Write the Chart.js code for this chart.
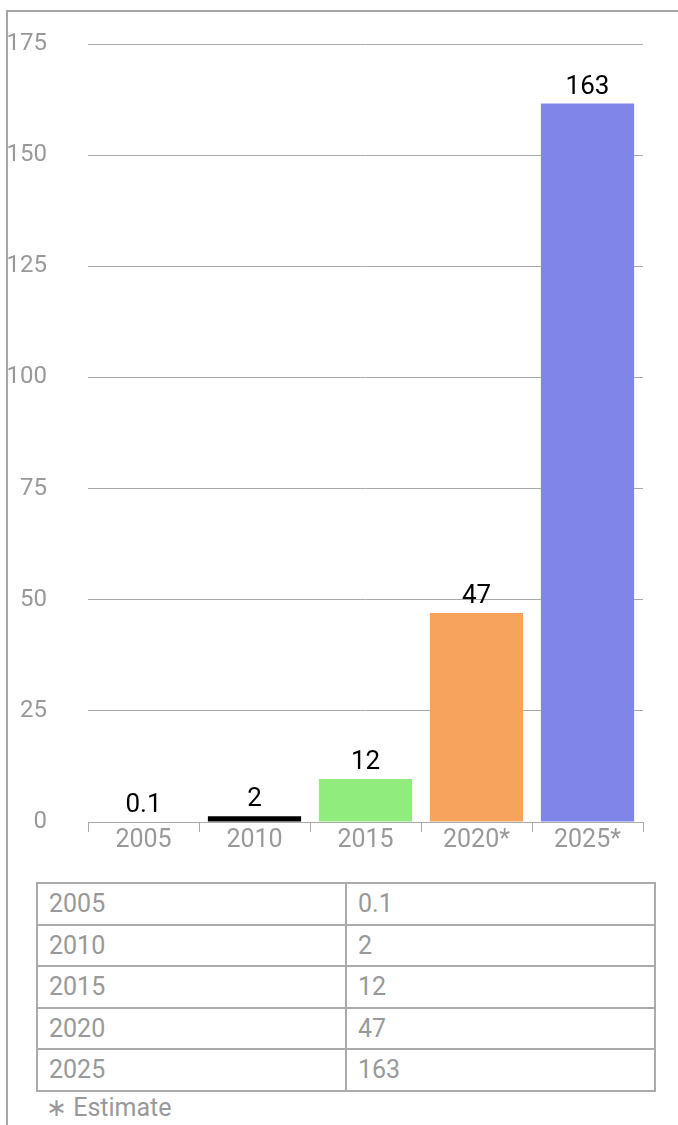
<!DOCTYPE html>
<html>
<head>
<meta charset="utf-8">
<script src="https://cdn.jsdelivr.net/npm/chart.js@4.4.1/dist/chart.umd.min.js"></script>
<style>
  html, body { margin: 0; padding: 0; background: #fff; }
  body { width: 678px; height: 1125px; position: relative; overflow: hidden;
         font-family: Roboto, 'Open Sans', sans-serif; }
  .frame { position: absolute; left: 6px; top: 10px; width: 700px; height: 1200px;
           border-top: 2px solid #a6a6a6; border-left: 2px solid #a6a6a6; }
  #wrap { position: absolute; left: 0; top: 0; width: 678px; height: 862px; }
  table { position: absolute; left: 36px; top: 882px; width: 620px; border-collapse: collapse; }
  td { border: 2px solid #ababab; height: 39.5px; padding: 0 0 0 11px; color: #999;
       font-size: 25px; line-height: 39px; }
  td:first-child { width: 296px; }
  .note { position: absolute; left: 46px; top: 1093px; color: #999; font-size: 25px; }
</style>
</head>
<body>
<div class="frame"></div>
<div id="wrap"><canvas id="myChart"></canvas></div>
<table id="tbl"></table>
<div class="note">&lowast; Estimate</div>
<script>
// categories and values
const years = ['2005', '2010', '2015', '2020*', '2025*'];
const tableYears = ['2005', '2010', '2015', '2020', '2025'];
const barValues = [0.1, 1.3, 9.7, 47, 161.6];   // heights as drawn
const valueLabels = ['0.1', '2', '12', '47', '163'];
const barColors = ['#7cb5ec', '#000000', '#90ed7d', '#f7a35c', '#8085e9'];
const yTicks = [0, 25, 50, 75, 100, 125, 150, 175];

const FONT = "Roboto, 'Open Sans', sans-serif";

// table under the chart
const tbl = document.getElementById('tbl');
tableYears.forEach(function (y, i) {
  const tr = document.createElement('tr');
  tr.innerHTML = '<td>' + y + '</td><td>' + valueLabels[i] + '</td>';
  tbl.appendChild(tr);
});

// value labels above bars
const topLabels = {
  id: 'topLabels',
  afterDatasetsDraw(chart) {
    const c = chart.ctx;
    const meta = chart.getDatasetMeta(0);
    c.save();
    c.fillStyle = '#000';
    c.font = '26px ' + FONT;
    c.textAlign = 'center';
    c.textBaseline = 'alphabetic';
    meta.data.forEach(function (bar, i) {
      c.fillText(valueLabels[i], bar.x, bar.y - 10);
    });
    c.restore();
  }
};

const ctx = document.getElementById('myChart');
const myBarChart = new Chart(ctx, {
  type: 'bar',
  data: {
    labels: years,
    datasets: [{
      data: barValues,
      backgroundColor: barColors,
      borderWidth: 0,
      categoryPercentage: 1,
      barPercentage: 0.84
    }]
  },
  plugins: [topLabels],
  options: {
    responsive: true,
    maintainAspectRatio: false,
    animation: false,
    layout: { padding: { top: 44, right: 35, bottom: 0, left: 0 } },
    plugins: { legend: { display: false }, tooltip: { enabled: false } },
    scales: {
      x: {
        offset: true,
        grid: { offset: true, drawOnChartArea: false, drawTicks: true, tickLength: 10, color: '#aaa' },
        border: { display: true, color: '#aaa' },
        ticks: { color: '#999', font: { family: FONT, size: 25 }, padding: -6, maxRotation: 0 },
        afterFit(scale) { scale.height = 40; }
      },
      y: {
        min: 0,
        max: 175,
        afterBuildTicks(scale) { scale.ticks = yTicks.map(v => ({ value: v })); },
        grid: { color: '#aaa', drawTicks: false },
        border: { display: false },
        ticks: { color: '#999', font: { family: FONT, size: 24 }, padding: 41 },
        afterFit(scale) {
          scale.width = 88;
          scale.paddingTop = 14;
          scale.paddingBottom = 14;
        }
      }
    }
  }
});
</script>
</body>
</html>
